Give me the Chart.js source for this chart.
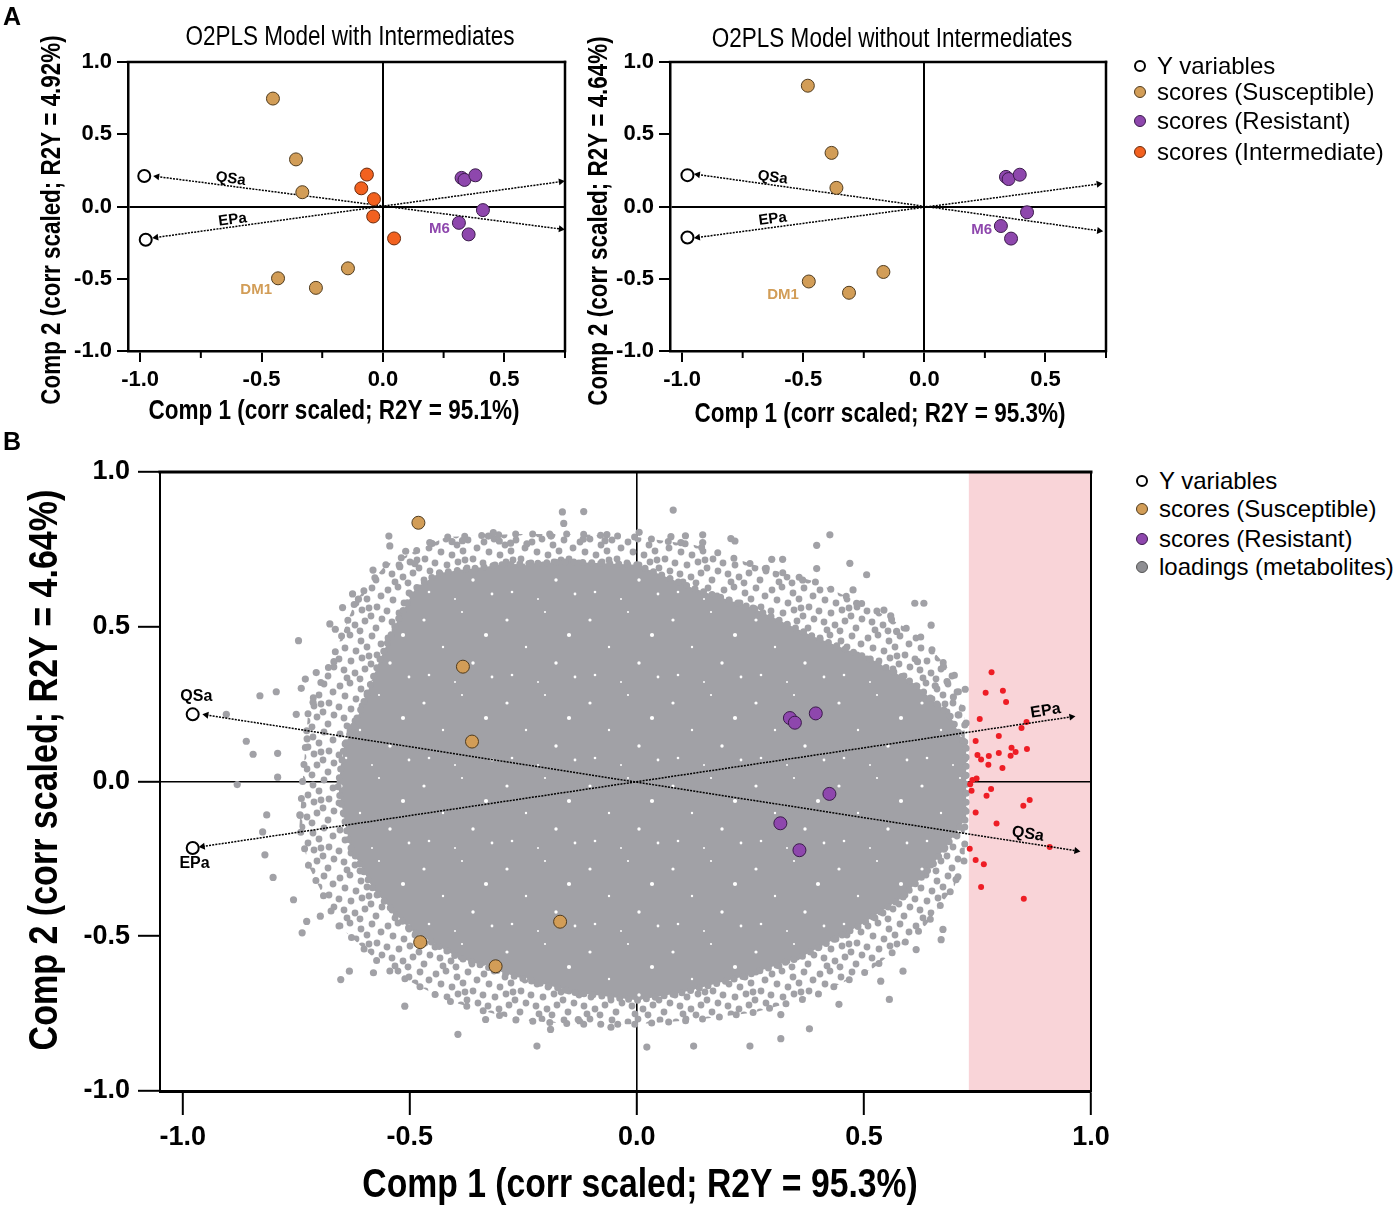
<!DOCTYPE html>
<html>
<head>
<meta charset="utf-8">
<title>O2PLS models</title>
<script src="https://cdn.jsdelivr.net/npm/chart.js@4.4.1/dist/chart.umd.min.js"></script>
<style>
  html, body { margin: 0; background: #fff; }
  #page { position: relative; width: 1394px; height: 1207px; overflow: hidden; font-family: 'Liberation Sans', Arial, sans-serif; color: #000; }
  #page canvas { position: absolute; }
  .tag { position: absolute; left: 3px; font-weight: bold; font-size: 25px; line-height: 1; }
  .leg { position: absolute; font-size: 24px; white-space: nowrap; }
  .leg > div { position: absolute; left: 0; height: 28px; line-height: 28px; }
  .dot { position: absolute; width: 12px; height: 12px; border-radius: 50%; box-sizing: border-box; top: 8px; left: 0; }
  .leg .t { position: absolute; left: 23px; }
</style>
</head>
<body>
<div id="page">
  <canvas id="a1" width="585" height="430" style="left:0;top:0"></canvas>
  <canvas id="a2" width="550" height="430" style="left:575px;top:0"></canvas>
  <canvas id="b" width="1130" height="767" style="left:0;top:440px"></canvas>
  <div class="tag" style="top:4px">A</div>
  <div class="tag" style="top:429px">B</div>
  <div class="leg" id="legA" style="left:1134px;top:0"></div>
  <div class="leg" id="legB" style="left:1136px;top:0"></div>
</div>
<script>
const SANS = "'Liberation Sans', Arial, sans-serif";

// colours
const TAN = '#D29D57', TAN_EDGE = '#4f3b1e';
const PURPLE = '#8E47AD', PURPLE_EDGE = '#3a1b4a';
const ORANGE = '#F2611F', ORANGE_EDGE = '#6a2a0c';
const GREY = '#A1A1A6', RED = '#EE1D25', PINK = '#F9D4D8';

// ---- Panel A left: O2PLS model with intermediates
const a1Susceptible = [[-0.453, 0.747], [-0.358, 0.326], [-0.332, 0.099], [-0.432, -0.497], [-0.276, -0.563], [-0.144, -0.428]];
const a1Resistant = [[0.324, 0.198], [0.336, 0.184], [0.381, 0.216], [0.412, -0.025], [0.313, -0.113], [0.353, -0.193]];
const a1Intermediate = [[-0.066, 0.221], [-0.089, 0.126], [-0.037, 0.051], [-0.040, -0.069], [0.046, -0.221]];
const a1YVars = [[-0.983, 0.211], [-0.977, -0.230]];   // QSa, EPa
const a1QSaArrow = [[-0.930, 0.207], [0.733, -0.156]];
const a1EPaArrow = [[-0.934, -0.214], [0.733, 0.172]];

// ---- O2PLS model without intermediates (panel A right and panel B)
const susceptible = [[-0.481, 0.836], [-0.383, 0.371], [-0.363, 0.129], [-0.477, -0.519], [-0.311, -0.597], [-0.169, -0.453]];
const resistant = [[0.337, 0.205], [0.348, 0.190], [0.394, 0.220], [0.424, -0.040], [0.316, -0.135], [0.358, -0.222]];
const yVars = [[-0.978, 0.217], [-0.978, -0.215]];    // QSa, EPa
const a2QSaArrow = [[-0.935, 0.221], [0.722, -0.168]];
const a2EPaArrow = [[-0.935, -0.214], [0.720, 0.156]];
const bQSaArrow = [[-0.948, 0.215], [0.968, -0.224]];
const bEPaArrow = [[-0.956, -0.210], [0.957, 0.209]];

// metabolite loadings: dense core outline, sparser ring outline, scattered outer loadings, highlighted loadings
const coreOutline = [
  [-0.658, -0.017], [-0.645, 0.111], [-0.606, 0.239], [-0.566, 0.393], [-0.527, 0.520], [-0.488, 0.623],
  [-0.436, 0.674], [-0.300, 0.700], [-0.150, 0.710], [0.000, 0.700], [0.127, 0.623], [0.258, 0.559],
  [0.388, 0.469], [0.519, 0.393], [0.611, 0.316], [0.689, 0.214], [0.725, 0.111], [0.725, -0.119],
  [0.650, -0.272], [0.585, -0.375], [0.493, -0.464], [0.362, -0.567], [0.232, -0.631], [0.100, -0.682],
  [0.000, -0.707], [-0.135, -0.682], [-0.266, -0.631], [-0.396, -0.567], [-0.500, -0.477], [-0.580, -0.349],
  [-0.632, -0.208], [-0.658, -0.017]
];
const ringOutline = [
  [-0.736, 0.000], [-0.723, 0.239], [-0.671, 0.393], [-0.619, 0.585], [-0.553, 0.700], [-0.420, 0.790],
  [-0.266, 0.800], [-0.135, 0.800], [0.000, 0.790], [0.127, 0.764], [0.258, 0.700], [0.388, 0.648],
  [0.519, 0.559], [0.624, 0.469], [0.700, 0.342], [0.722, 0.200], [0.722, -0.250], [0.700, -0.336],
  [0.637, -0.464], [0.519, -0.605], [0.388, -0.695], [0.258, -0.746], [0.127, -0.771], [0.000, -0.784],
  [-0.135, -0.784], [-0.266, -0.771], [-0.420, -0.707], [-0.553, -0.605], [-0.658, -0.464], [-0.723, -0.272],
  [-0.743, -0.145], [-0.736, 0.000]
];
const outerLoadings = [
  [-0.546, 0.793], [-0.544, 0.761], [-0.509, 0.744], [-0.456, 0.772], [-0.407, 0.775], [-0.384, 0.778],
  [-0.327, 0.793], [-0.316, 0.804], [-0.303, 0.777], [-0.278, 0.770], [-0.242, 0.768], [-0.164, 0.871],
  [-0.117, 0.872], [-0.161, 0.834], [-0.189, 0.793], [-0.118, 0.783], [-0.070, 0.778], [-0.066, 0.798],
  [0.005, 0.805], [-0.581, 0.683], [-0.626, 0.606], [-0.613, 0.589], [-0.648, 0.562], [-0.676, 0.509],
  [-0.664, 0.492], [-0.745, 0.455], [-0.667, 0.387], [-0.706, 0.352], [-0.730, 0.331], [-0.739, 0.301],
  [-0.794, 0.290], [-0.830, 0.277], [-0.904, 0.217], [-0.750, 0.217], [-0.845, 0.088], [-0.791, 0.091],
  [-0.791, 0.014], [-0.713, 0.256], [-0.726, 0.138], [-0.522, 0.694], [-0.489, 0.704], [-0.824, -0.163],
  [-0.742, -0.108], [-0.880, -0.010], [-0.860, 0.130],
  [0.080, 0.877], [0.075, 0.791], [0.107, 0.794], [0.097, 0.772], [0.145, 0.797], [0.145, 0.772],
  [0.207, 0.785], [0.216, 0.777], [0.396, 0.763], [0.425, 0.797], [0.297, 0.718], [0.321, 0.718],
  [0.396, 0.688], [0.469, 0.705], [0.506, 0.668], [0.283, 0.688], [0.612, 0.576], [0.632, 0.576],
  [0.648, 0.505], [0.544, 0.554], [0.559, 0.535], [0.572, 0.485], [0.618, 0.387], [0.675, 0.371],
  [0.657, 0.309], [0.683, 0.323], [0.723, 0.298], [0.697, 0.273], [0.709, 0.215], [0.725, 0.189],
  [0.365, 0.651], [0.476, 0.619], [0.484, 0.576],
  [-0.815, -0.108], [-0.819, -0.237], [-0.801, -0.310], [-0.756, -0.382], [-0.727, -0.452],
  [-0.737, -0.489], [-0.697, -0.435], [-0.652, -0.640], [-0.633, -0.613], [-0.580, -0.618],
  [-0.511, -0.726], [-0.394, -0.817], [-0.333, -0.769], [-0.220, -0.855], [-0.190, -0.801], [-0.129, -0.769],
  [-0.057, -0.794], [0.022, -0.858], [0.125, -0.855], [0.249, -0.855], [0.317, -0.831], [0.317, -0.753],
  [0.380, -0.799], [0.445, -0.720], [0.556, -0.704], [0.537, -0.645], [0.586, -0.613], [0.615, -0.543],
  [0.674, -0.478], [0.670, -0.511], [0.703, -0.317]
];
const highlightLoadings = [
  [0.781, 0.353], [0.768, 0.287], [0.806, 0.293], [0.813, 0.257], [0.755, 0.202], [0.858, 0.192],
  [0.847, 0.173], [0.797, 0.147], [0.746, 0.131], [0.825, 0.109], [0.859, 0.105], [0.834, 0.095],
  [0.797, 0.092], [0.823, 0.083], [0.750, 0.086], [0.775, 0.082], [0.758, 0.071], [0.774, 0.054],
  [0.805, 0.044], [0.748, 0.010], [0.739, 0.005], [0.734, -0.009], [0.737, -0.030], [0.780, -0.024],
  [0.770, -0.046], [0.865, -0.060], [0.851, -0.078], [0.746, -0.100], [0.792, -0.136], [0.909, -0.212],
  [0.733, -0.217], [0.746, -0.254], [0.764, -0.267], [0.758, -0.341], [0.852, -0.379]
];
const highlightFrom = 0.731;   // loadings beyond this comp 1 value are shaded

// axis ticks
const yTicks = [-1, -0.5, 0, 0.5, 1];
const xTicksA = [-1, -0.5, 0, 0.5];
const xMinorA = [-0.75, -0.25, 0.25, 0.75];
const xTicksB = [-1, -0.5, 0, 0.5, 1];

// texts
const titleA1 = 'O2PLS Model with Intermediates';
const titleA2 = 'O2PLS Model without Intermediates';
const xTitleA1 = 'Comp 1 (corr scaled; R2Y = 95.1%)';
const yTitleA1 = 'Comp 2 (corr scaled; R2Y = 4.92%)';
const xTitleA2 = 'Comp 1 (corr scaled; R2Y = 95.3%)';
const yTitleA2 = 'Comp 2 (corr scaled; R2Y = 4.64%)';
const xTitleB = 'Comp 1 (corr scaled; R2Y = 95.3%)';
const yTitleB = 'Comp 2 (corr scaled; R2Y = 4.64%)';

const legendA = [
  { label: 'Y variables', fill: '#fff', edge: '2px solid #000' },
  { label: 'scores (Susceptible)', fill: TAN, edge: '1px solid ' + TAN_EDGE },
  { label: 'scores (Resistant)', fill: PURPLE, edge: '1px solid ' + PURPLE_EDGE },
  { label: 'scores (Intermediate)', fill: ORANGE, edge: '1px solid ' + ORANGE_EDGE }
];
const legendB = [
  { label: 'Y variables', fill: '#fff', edge: '2px solid #000' },
  { label: 'scores (Susceptible)', fill: TAN, edge: '1px solid ' + TAN_EDGE },
  { label: 'scores (Resistant)', fill: PURPLE, edge: '1px solid ' + PURPLE_EDGE },
  { label: 'loadings (metabolites)', fill: '#8e8e92', edge: '1px solid #555' }
];

const toXY = pts => pts.map(p => ({ x: p[0], y: p[1] }));

// textures for the loadings cloud: sparse dots for the outer ring, grey with small gaps for the core
function texture(size, base, marks, markColor) {
  const c = document.createElement('canvas');
  c.width = size; c.height = size;
  const g = c.getContext('2d');
  if (base) { g.fillStyle = base; g.fillRect(0, 0, size, size); }
  g.fillStyle = markColor;
  marks.forEach(p => {
    for (let ox = -size; ox <= size; ox += size) {
      for (let oy = -size; oy <= size; oy += size) {
        g.beginPath(); g.arc(p[0] + ox, p[1] + oy, p[2], 0, Math.PI * 2); g.fill();
      }
    }
  });
  return g.createPattern(c, 'repeat');
}
const ringDots = [[4, 6, 3.4], [14, 3, 3.4], [25, 9, 3.4], [36, 4, 3.4], [45, 12, 3.4], [9, 16, 3.4],
  [20, 19, 3.4], [31, 15, 3.4], [41, 23, 3.4], [3, 27, 3.4], [15, 29, 3.4], [26, 26, 3.4], [35, 32, 3.4],
  [46, 35, 3.4], [8, 38, 3.4], [19, 41, 3.4], [29, 37, 3.4], [40, 44, 3.4], [24, 47, 3.4], [11, 46, 3.4],
  [33, 24, 3.4]];
const coreGaps = [[9, 14, 1.6], [47, 6, 1.1], [71, 29, 2.1], [28, 41, 1.2], [58, 57, 1.7], [14, 69, 1.3],
  [40, 76, 1.0], [77, 71, 1.4]];

function arrowRotation(c) {
  const d = c.dataset.data, i = c.dataIndex, j = i === 0 ? 1 : 0;
  const sx = c.chart.scales.x, sy = c.chart.scales.y;
  const dx = sx.getPixelForValue(d[i].x) - sx.getPixelForValue(d[j].x);
  const dy = sy.getPixelForValue(d[i].y) - sy.getPixelForValue(d[j].y);
  return Math.atan2(dy, dx) * 180 / Math.PI + 90;
}

function scoreDs(pts, fill, edge, r) {
  return { data: toXY(pts), backgroundColor: fill, borderColor: edge, borderWidth: 1, pointRadius: r, order: 2 };
}
function yVarDs(pts, r) {
  return { data: toXY(pts), backgroundColor: '#fff', borderColor: '#000', borderWidth: 2, pointRadius: r, order: 1 };
}
function arrowDs(pts, w) {
  return {
    type: 'line', data: toXY(pts), borderColor: '#000', borderWidth: w, borderDash: [2, 1.2], fill: false,
    tension: 0, pointStyle: 'triangle', pointRadius: 4, pointBackgroundColor: '#000', pointBorderWidth: 0,
    pointRotation: arrowRotation, order: 4
  };
}

function xAxis(min, max, ticks, h, t) {
  return {
    type: 'linear', min: min, max: max, z: 1,
    afterBuildTicks: s => { s.ticks = ticks.map(v => ({ value: v })); },
    afterFit: s => { s.height = h; },
    ticks: { autoSkip: false, maxRotation: 0, padding: t.pad, color: '#000',
      font: { family: SANS, size: t.size, weight: 'bold' }, callback: v => v.toFixed(1) },
    grid: { color: c => (c.tick && c.tick.value === 0) ? '#000' : 'rgba(0,0,0,0)', lineWidth: t.zero,
      tickColor: '#000', tickWidth: t.tw, tickLength: t.len },
    border: { display: true, color: '#000', width: t.border }
  };
}
function yAxis(w, t) {
  return {
    type: 'linear', min: -1, max: 1, z: 1,
    afterBuildTicks: s => { s.ticks = yTicks.map(v => ({ value: v })); },
    afterFit: s => { s.width = w; },
    ticks: { padding: t.pad, color: '#000', font: { family: SANS, size: t.size, weight: 'bold' },
      callback: v => v.toFixed(1) },
    grid: { color: c => (c.tick && c.tick.value === 0) ? '#000' : 'rgba(0,0,0,0)', lineWidth: t.zero,
      tickColor: '#000', tickWidth: t.tw, tickLength: t.len },
    border: { display: true, color: '#000', width: t.border }
  };
}

// sx squeezes text horizontally (the figure uses a condensed face)
function drawText(ctx, s, px, py, font, color, rot, sx) {
  ctx.save();
  ctx.translate(px, py);
  ctx.rotate((rot || 0) * Math.PI / 180);
  ctx.scale(sx || 1, 1);
  ctx.font = font;
  ctx.fillStyle = color || '#000';
  ctx.textAlign = 'center';
  ctx.textBaseline = 'middle';
  ctx.fillText(s, 0, 0);
  ctx.restore();
}

const extras = {
  id: 'extras',
  beforeDraw(chart, args, o) {
    if (!o.band) return;
    const { ctx, chartArea: a, scales: { x } } = chart;
    const x0 = x.getPixelForValue(o.band.from), x1 = x.getPixelForValue(o.band.to);
    ctx.save();
    ctx.fillStyle = o.band.color;
    ctx.fillRect(x0, a.top, x1 - x0, a.bottom - a.top);
    ctx.restore();
  },
  afterDraw(chart, args, o) {
    const { ctx, chartArea: a, scales: { x, y } } = chart;
    ctx.save();
    ctx.strokeStyle = '#000';
    ctx.lineCap = 'square';
    ctx.lineWidth = o.frameTop;
    ctx.beginPath(); ctx.moveTo(a.left, a.top); ctx.lineTo(a.right, a.top); ctx.stroke();
    ctx.lineWidth = o.frameRight;
    ctx.beginPath(); ctx.moveTo(a.right, a.top); ctx.lineTo(a.right, a.bottom); ctx.stroke();
    ctx.lineCap = 'butt';
    if (o.minor) {
      ctx.lineWidth = 2;
      o.minor.forEach(v => {
        const px = x.getPixelForValue(v);
        ctx.beginPath(); ctx.moveTo(px, a.bottom); ctx.lineTo(px, a.bottom + 7); ctx.stroke();
      });
    }
    ctx.restore();
    (o.labels || []).forEach(l => {
      drawText(ctx, l.text, x.getPixelForValue(l.x), y.getPixelForValue(l.y), l.font, l.color, l.rot);
    });
    (o.texts || []).forEach(t => drawText(ctx, t.text, t.x, t.y, t.font, '#000', t.rot, t.sx));
  }
};

Chart.defaults.font.family = SANS;
Chart.defaults.color = '#000';

function panel(id, datasets, scales, padding, plug) {
  return new Chart(document.getElementById(id), {
    type: 'scatter',
    data: { datasets: datasets },
    options: {
      responsive: false, animation: false, events: [],
      layout: { padding: padding },
      scales: scales,
      plugins: { legend: { display: false }, tooltip: { enabled: false }, extras: plug }
    },
    plugins: [extras]
  });
}

const tickA = { size: 22, pad: 5, len: 11, tw: 2, zero: 2, border: 2.5 };
const lblA = 'bold 15px ' + SANS, lblB = 'bold 16px ' + SANS;
const titleFont = '27px ' + SANS, axisFontA = 'bold 27px ' + SANS, axisFontB = 'bold 41px ' + SANS;

// Panel A, left
panel('a1', [
  yVarDs(a1YVars, 6),
  scoreDs(a1Susceptible, TAN, TAN_EDGE, 6.5),
  scoreDs(a1Resistant, PURPLE, PURPLE_EDGE, 6.5),
  scoreDs(a1Intermediate, ORANGE, ORANGE_EDGE, 6.5),
  arrowDs(a1QSaArrow, 1.5),
  arrowDs(a1EPaArrow, 1.5)
], { x: xAxis(-1.05, 0.75, xTicksA, 79, tickA), y: yAxis(128, tickA) },
{ left: 0, top: 62, right: 20, bottom: 0 },
{
  frameTop: 2.5, frameRight: 2.5, minor: xMinorA,
  labels: [
    { text: 'QSa', x: -0.627, y: 0.191, rot: 7.5, font: lblA },
    { text: 'EPa', x: -0.619, y: -0.092, rot: -7.5, font: lblA },
    { text: 'DM1', x: -0.522, y: -0.575, font: lblA, color: TAN },
    { text: 'M6', x: 0.233, y: -0.156, font: lblA, color: PURPLE }
  ],
  texts: [
    { text: titleA1, x: 350, y: 38, font: titleFont, sx: 0.834 },
    { text: yTitleA1, x: 53, y: 220, rot: -90, font: axisFontA, sx: 0.83 },
    { text: xTitleA1, x: 334, y: 412, font: axisFontA, sx: 0.834 }
  ]
});

// Panel A, right
panel('a2', [
  yVarDs(yVars, 6),
  scoreDs(susceptible, TAN, TAN_EDGE, 6.5),
  scoreDs(resistant, PURPLE, PURPLE_EDGE, 6.5),
  arrowDs(a2QSaArrow, 1.5),
  arrowDs(a2EPaArrow, 1.5)
], { x: xAxis(-1.05, 0.75, xTicksA, 79, tickA), y: yAxis(95, tickA) },
{ left: 0, top: 62, right: 19, bottom: 0 },
{
  frameTop: 2.5, frameRight: 2.5, minor: xMinorA,
  labels: [
    { text: 'QSa', x: -0.626, y: 0.200, rot: 7.5, font: lblA },
    { text: 'EPa', x: -0.626, y: -0.087, rot: -7.5, font: lblA },
    { text: 'DM1', x: -0.583, y: -0.610, font: lblA, color: TAN },
    { text: 'M6', x: 0.237, y: -0.163, font: lblA, color: PURPLE }
  ],
  texts: [
    { text: titleA2, x: 317, y: 40, font: titleFont, sx: 0.834 },
    { text: yTitleA2, x: 25, y: 221, rot: -90, font: axisFontA, sx: 0.83 },
    { text: xTitleA2, x: 305, y: 415, font: axisFontA, sx: 0.834 }
  ]
});

// Panel B
const tickB = { size: 27, pad: 6, len: 24, tw: 2, zero: 1.6, border: 3 };
const tickBy = { size: 27, pad: 8, len: 22, tw: 2, zero: 1.6, border: 2 };
panel('b', [
  yVarDs(yVars, 6),
  scoreDs(susceptible, TAN, TAN_EDGE, 6.5),
  scoreDs(resistant, PURPLE, PURPLE_EDGE, 6.5),
  arrowDs(bQSaArrow, 1.5),
  arrowDs(bEPaArrow, 1.5),
  { data: toXY(highlightLoadings), backgroundColor: RED, borderWidth: 0, pointRadius: 3, order: 6 },
  { data: toXY(outerLoadings), backgroundColor: GREY, borderWidth: 0, pointRadius: 3.6, order: 7 },
  { type: 'line', data: toXY(coreOutline), borderColor: GREY, borderWidth: 7, borderDash: [0, 9],
    borderCapStyle: 'round', backgroundColor: texture(83, GREY, coreGaps, '#fff'),
    fill: 'shape', tension: 0, pointRadius: 0, order: 8 },
  { type: 'line', data: toXY(ringOutline), borderColor: GREY, borderWidth: 7, borderDash: [0, 17],
    borderCapStyle: 'round', backgroundColor: texture(48, null, ringDots, GREY),
    fill: 'shape', tension: 0, pointRadius: 0, order: 9 }
], { x: xAxis(-1.05, 1.0, xTicksB, 116, tickB), y: yAxis(160, tickBy) },
{ left: 0, top: 32, right: 39, bottom: 0 },
{
  frameTop: 3, frameRight: 2,
  band: { from: highlightFrom, to: 1.0, color: PINK },
  labels: [
    { text: 'QSa', x: -0.970, y: 0.273, font: lblB },
    { text: 'EPa', x: -0.974, y: -0.264, font: lblB },
    { text: 'EPa', x: 0.900, y: 0.228, rot: -9, font: lblB },
    { text: 'QSa', x: 0.861, y: -0.170, rot: 9, font: lblB }
  ],
  texts: [
    { text: yTitleB, x: 46, y: 330, rot: -90, font: axisFontB, sx: 0.83 },
    { text: xTitleB, x: 640, y: 746, font: axisFontB, sx: 0.822 }
  ]
});

function buildLegend(id, items, centers) {
  const el = document.getElementById(id);
  items.forEach((it, i) => {
    const row = document.createElement('div');
    row.style.top = (centers[i] - 14) + 'px';
    row.innerHTML = '<span class="dot" style="background:' + it.fill + ';border:' + it.edge + '"></span>' +
      '<span class="t">' + it.label + '</span>';
    el.appendChild(row);
  });
}
buildLegend('legA', legendA, [66, 92, 121, 152]);
buildLegend('legB', legendB, [481, 509, 539, 567]);
</script>
</body>
</html>
